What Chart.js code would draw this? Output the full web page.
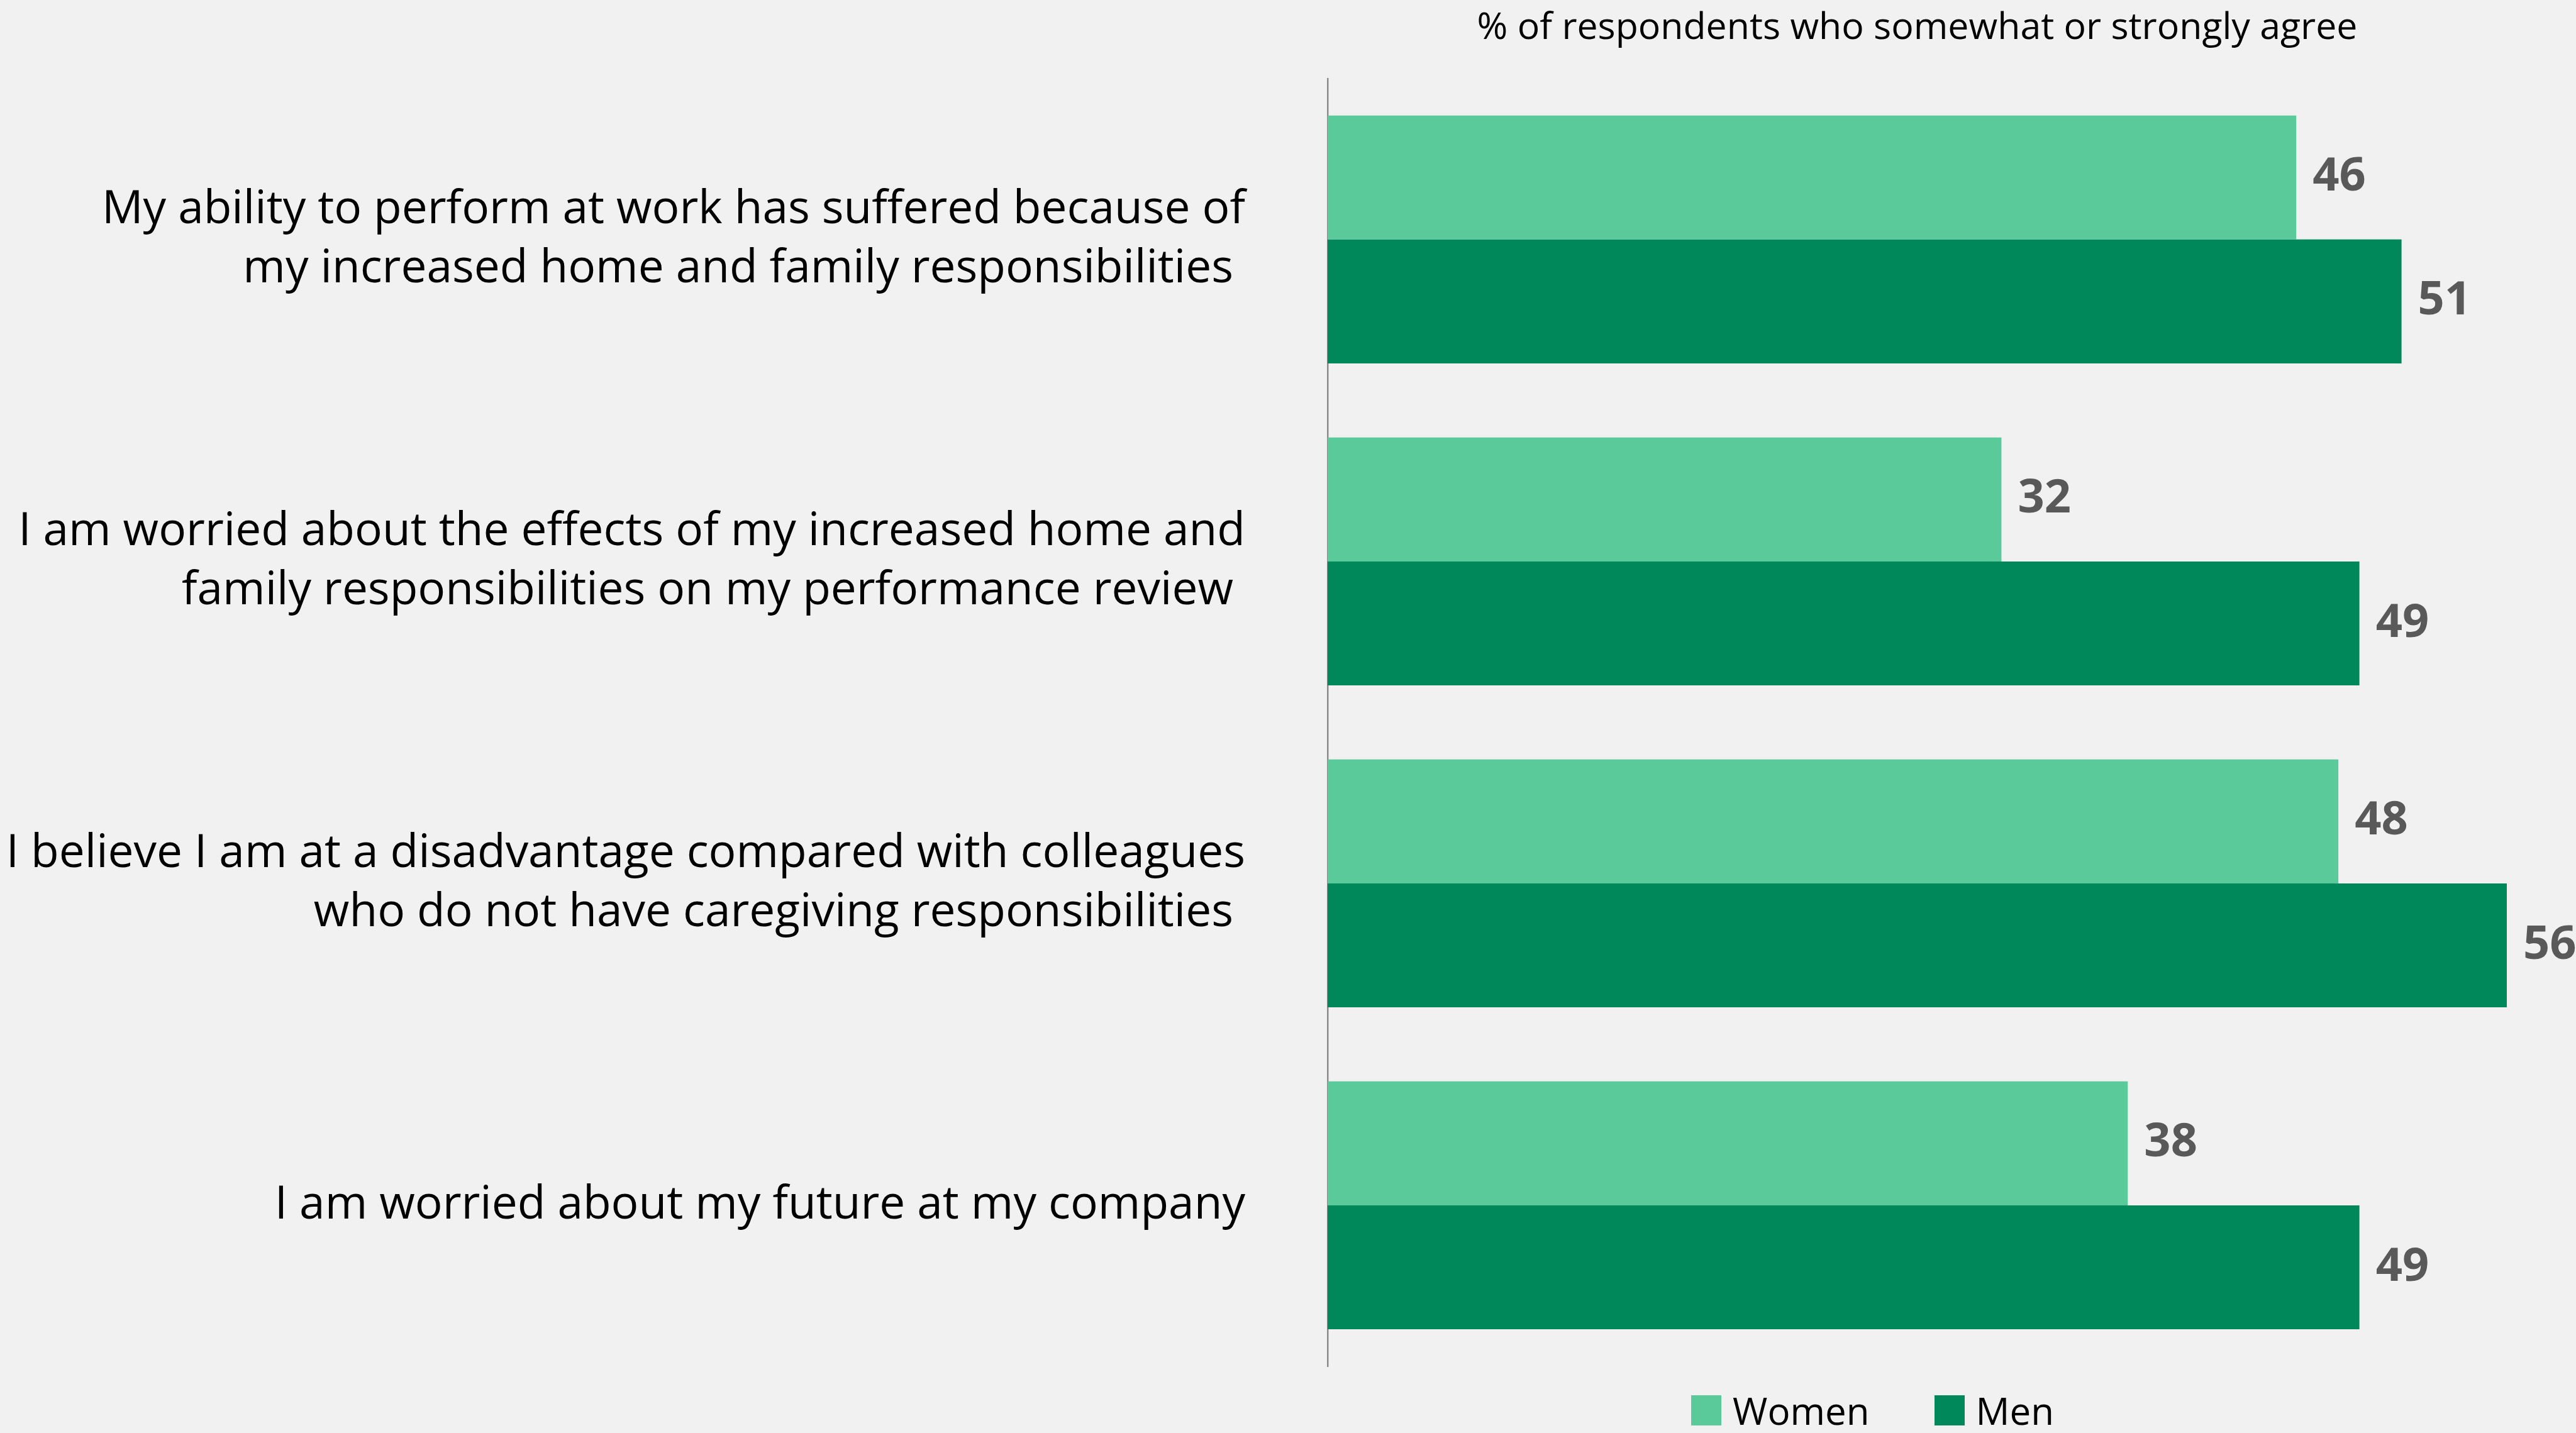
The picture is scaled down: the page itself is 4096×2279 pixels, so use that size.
<!DOCTYPE html>
<html>
<head>
<meta charset="utf-8">
<title>Caregiving and work</title>
<script src="https://cdn.jsdelivr.net/npm/chart.js@4.4.1/dist/chart.umd.min.js"></script>
<style>
  html, body { margin: 0; padding: 0; background: #f1f1f1; }
  #wrap { position: relative; width: 4096px; height: 2279px; }
  #legend {
    position: absolute; left: 2689px; top: 2219px;
    display: flex; align-items: center; height: 48px;
    font-family: "Open Sans", sans-serif; font-size: 60px; color: #000;
  }
  .legend-item { display: flex; align-items: center; margin-right: 103px; }
  .legend-box { width: 48px; height: 48px; margin-right: 18px; }
</style>
</head>
<body>
<div id="wrap">
  <canvas id="chart"></canvas>
  <div id="legend"></div>
</div>
<script>
// statements (one array of lines per category)
const categories = [
  ["My ability to perform at work has suffered because of", "my increased home and family responsibilities "],
  ["I am worried about the effects of my increased home and", "family responsibilities on my performance review "],
  ["I believe I am at a disadvantage compared with colleagues", "who do not have caregiving responsibilities "],
  ["I am worried about my future at my company"],
];
const women = [46, 32, 48, 38];
const men = [51, 49, 56, 49];
const seriesNames = ["Women", "Men"];
const seriesColors = ["#5bca9b", "#00875a"];
const titleText = "% of respondents who somewhat or strongly agree";

Chart.defaults.font.family = "'Open Sans', sans-serif";

// value printed just past the end of every bar
const barValueLabels = {
  id: "barValueLabels",
  afterDatasetsDraw(chart) {
    const ctx = chart.ctx;
    ctx.save();
    ctx.font = "bold 74px 'Open Sans'";
    ctx.fillStyle = "#595959";
    ctx.textAlign = "left";
    ctx.textBaseline = "middle";
    chart.data.datasets.forEach((ds, i) => {
      chart.getDatasetMeta(i).data.forEach((bar, j) => {
        ctx.fillText(ds.data[j], bar.x + 26, bar.y);
      });
    });
    ctx.restore();
  },
};

// legend rendered as html under the plot
const htmlLegend = {
  id: "htmlLegend",
  afterUpdate(chart) {
    const box = document.getElementById("legend");
    box.innerHTML = "";
    chart.data.datasets.forEach((ds) => {
      box.innerHTML += `<div class="legend-item"><span class="legend-box" style="background:${ds.backgroundColor}"></span>${ds.label}</div>`;
    });
  },
};

let ctx = document.getElementById("chart").getContext("2d");
let chart = new Chart(ctx, {
  type: "bar",
  data: {
    labels: categories,
    datasets: [
      { label: seriesNames[0], data: women, backgroundColor: seriesColors[0] },
      { label: seriesNames[1], data: men, backgroundColor: seriesColors[1] },
    ],
  },
  options: {
    indexAxis: "y",
    responsive: true,
    maintainAspectRatio: false,
    animation: false,
    categoryPercentage: 0.77,
    barPercentage: 1,
    layout: { padding: { left: 0, right: 110, top: 0, bottom: 106 } },
    plugins: {
      legend: { display: false },
      tooltip: { enabled: false },
      title: {
        display: true,
        text: titleText,
        fullSize: false,
        color: "#000",
        font: { size: 59, weight: "normal" },
        padding: { top: 10, bottom: 44 },
      },
    },
    scales: {
      x: { display: false, min: 0, max: 56 },
      y: {
        grid: { display: false, drawTicks: false },
        border: { display: true, color: "#8c8c8c", width: 2.5 },
        ticks: {
          autoSkip: false,
          color: "#000",
          padding: 131,
          font: { size: 73, lineHeight: 1.29 },
        },
        afterFit(scale) {
          // fixed label column; the tick padding should not push the plot down
          scale.width = 2111;
          scale.paddingTop = 0;
          scale.paddingBottom = 0;
        },
      },
    },
  },
  plugins: [barValueLabels, htmlLegend],
});
</script>
</body>
</html>
